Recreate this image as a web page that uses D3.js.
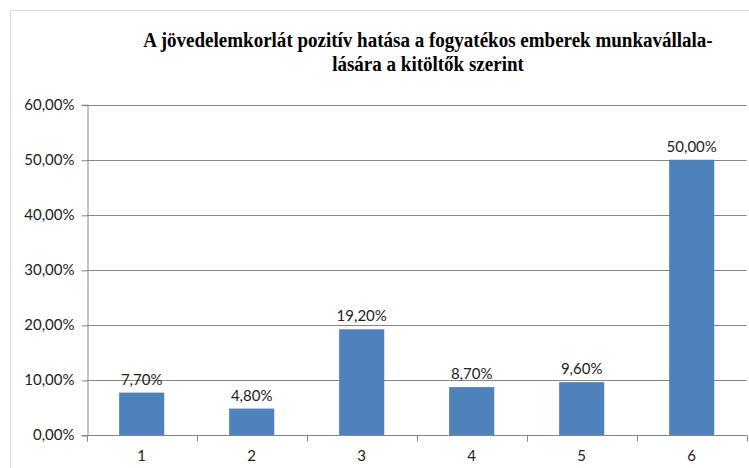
<!DOCTYPE html>
<html>
<head>
<meta charset="utf-8">
<script src="https://cdn.jsdelivr.net/npm/d3@7"></script>
<style>
  html, body { margin: 0; padding: 0; background: #fff; }
  svg { display: block; }
</style>
</head>
<body>
<svg id="chart" width="749" height="468"></svg>
<script>
// Chart data
const titleLines = [
  "A jövedelemkorlát pozitív hatása a fogyatékos emberek munkavállala-",
  "lására a kitöltők szerint"
];
const categories = ["1", "2", "3", "4", "5", "6"];
const values = [7.7, 4.8, 19.2, 8.7, 9.6, 50.0];
const yTicks = [0, 10, 20, 30, 40, 50, 60];

const fmt = v => v.toFixed(2).replace(".", ",") + "%";

const svg = d3.select("#chart");
const plot = { left: 86.7, right: 746.7, top: 104.7, bottom: 435 };

// outer chart border
svg.append("rect")
  .attr("x", 10.5).attr("y", 10.5)
  .attr("width", 800).attr("height", 500)
  .attr("fill", "none").attr("stroke", "#d9d9d9").attr("stroke-width", 1);

const x = d3.scaleBand()
  .domain(categories)
  .range([plot.left, plot.right])
  .paddingInner(0.59)
  .paddingOuter(0.295);

const y = d3.scaleLinear()
  .domain([0, 60])
  .range([plot.bottom, plot.top]);

const axisColor = "#868686";
const labelFont = "Lato, 'Open Sans', sans-serif";
const labelSize = 15;

// horizontal gridlines
svg.append("g")
  .selectAll("line")
  .data(yTicks)
  .join("line")
  .attr("x1", plot.left).attr("x2", plot.right)
  .attr("y1", d => Math.round(y(d)) + 0.5)
  .attr("y2", d => Math.round(y(d)) + 0.5)
  .attr("stroke", axisColor).attr("stroke-width", 1);

// y axis
const yAxis = svg.append("g")
  .attr("transform", `translate(${Math.round(plot.left) + 0.5},0)`)
  .call(d3.axisLeft(y).tickValues(yTicks).tickFormat(fmt).tickSize(6).tickPadding(7));
yAxis.select(".domain").attr("stroke", axisColor);
yAxis.selectAll(".tick line").attr("stroke", axisColor)
  .attr("transform", "translate(0,0.5)");
yAxis.selectAll(".tick text")
  .attr("font-family", labelFont).attr("font-size", labelSize).attr("fill", "#222");

// x axis with ticks at band boundaries
const xAxisG = svg.append("g")
  .attr("transform", `translate(0,${Math.round(plot.bottom) + 0.5})`);
xAxisG.append("line")
  .attr("x1", plot.left).attr("x2", plot.right)
  .attr("stroke", axisColor);
const boundaries = categories.map(c => x(c) - x.step() * x.paddingInner() / 2)
  .concat([plot.right]);
xAxisG.selectAll("line.tk")
  .data(boundaries)
  .join("line")
  .attr("class", "tk")
  .attr("x1", d => Math.round(d) + 0.5).attr("x2", d => Math.round(d) + 0.5)
  .attr("y1", 0).attr("y2", 6)
  .attr("stroke", axisColor);
xAxisG.selectAll("text")
  .data(categories)
  .join("text")
  .attr("x", d => x(d) + x.bandwidth() / 2)
  .attr("y", 25)
  .attr("text-anchor", "middle")
  .attr("font-family", labelFont).attr("font-size", labelSize).attr("fill", "#222")
  .text(d => d);

// bars
svg.append("g")
  .selectAll("rect")
  .data(values)
  .join("rect")
  .attr("x", (d, i) => x(categories[i]))
  .attr("y", d => y(d))
  .attr("width", x.bandwidth())
  .attr("height", d => y(0) - y(d))
  .attr("fill", "#4f81bd");

// value labels
svg.append("g")
  .selectAll("text")
  .data(values)
  .join("text")
  .attr("x", (d, i) => x(categories[i]) + x.bandwidth() / 2)
  .attr("y", d => y(d) - 8)
  .attr("text-anchor", "middle")
  .attr("font-family", labelFont).attr("font-size", labelSize).attr("fill", "#222")
  .text(fmt);

// title: bold serif, horizontally condensed, two centred lines
const titleCx = 428, condense = 0.865;
svg.append("g")
  .attr("transform", `translate(${titleCx},0) scale(${condense},1)`)
  .selectAll("text")
  .data(titleLines)
  .join("text")
  .attr("x", 0)
  .attr("y", (d, i) => 47 + i * 24)
  .attr("text-anchor", "middle")
  .attr("font-family", "'Liberation Serif', 'Times New Roman', serif")
  .attr("font-weight", "bold")
  .attr("font-size", 22)
  .attr("fill", "#000")
  .text(d => d);
</script>
</body>
</html>
